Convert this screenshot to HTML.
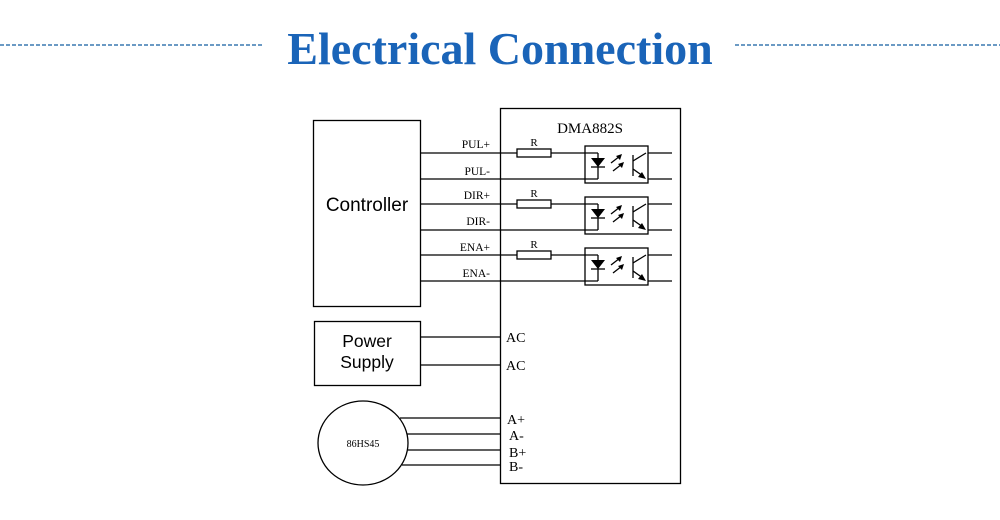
<!DOCTYPE html>
<html><head><style>
html,body{margin:0;padding:0;background:#fff;}
svg{display:block;}
</style></head><body>
<svg width="1000" height="520" viewBox="0 0 1000 520" xmlns="http://www.w3.org/2000/svg">
<line x1="0" y1="45" x2="264" y2="45" stroke="#3a78b0" stroke-width="1.5" stroke-dasharray="4,2"/>
<line x1="735" y1="45" x2="1000" y2="45" stroke="#3a78b0" stroke-width="1.5" stroke-dasharray="4,2"/>
<text x="500" y="64" text-anchor="middle" font-family="Liberation Serif, serif" font-weight="bold" font-size="46" fill="#1a64b8">Electrical Connection</text>

<g stroke="#000" stroke-width="1.3" fill="none">
<rect x="313.5" y="120.5" width="107" height="186"/>
<rect x="500.5" y="108.5" width="180" height="375"/>
<rect x="314.5" y="321.5" width="106" height="64"/>
<ellipse cx="363" cy="443" rx="45" ry="42"/>
</g>
<text x="367" y="211" text-anchor="middle" font-family="Liberation Sans, sans-serif" font-size="19">Controller</text>
<text x="367" y="347" text-anchor="middle" font-family="Liberation Sans, sans-serif" font-size="17.5">Power</text>
<text x="367" y="368" text-anchor="middle" font-family="Liberation Sans, sans-serif" font-size="17.5">Supply</text>
<text x="363" y="447" text-anchor="middle" font-family="Liberation Serif, serif" font-size="10">86HS45</text>
<text x="590" y="133" text-anchor="middle" font-family="Liberation Serif, serif" font-size="15">DMA882S</text>

<g font-family="Liberation Serif, serif" font-size="11.5" text-anchor="end">
<text x="490" y="148">PUL+</text><text x="490" y="175">PUL-</text>
<text x="490" y="199">DIR+</text><text x="490" y="225">DIR-</text>
<text x="490" y="251">ENA+</text><text x="490" y="277">ENA-</text>
</g>

<g id="ch">
<g stroke="#000" stroke-width="1.3" fill="none">
<line x1="420" y1="153" x2="517" y2="153"/>
<rect x="517" y="149" width="34" height="8"/>
<line x1="551" y1="153" x2="598" y2="153"/>
<line x1="420" y1="179" x2="598" y2="179"/>
<line x1="598" y1="153" x2="598" y2="179"/>
<rect x="585" y="146" width="63" height="37"/>
<line x1="648" y1="153" x2="672" y2="153"/>
<line x1="648" y1="179" x2="672" y2="179"/>
<line x1="591" y1="167" x2="605" y2="167"/>
<line x1="633" y1="155" x2="633" y2="176"/>
<line x1="633" y1="161" x2="646" y2="153"/>
<line x1="633" y1="169" x2="643" y2="176"/>
<line x1="611" y1="163" x2="620" y2="156"/>
<line x1="613" y1="171" x2="622" y2="164"/>
</g>
<polygon points="591,158 605,158 598,167" fill="#000"/>
<polygon points="646,179 638,177 642,172" fill="#000"/>
<polygon points="622,154 616,156 620,160" fill="#000"/>
<polygon points="624,162 618,164 622,168" fill="#000"/>
<text x="534" y="146" text-anchor="middle" font-family="Liberation Serif, serif" font-size="11">R</text>
</g>
<use href="#ch" transform="translate(0,51)"/>
<use href="#ch" transform="translate(0,102)"/>

<g stroke="#000" stroke-width="1.3">
<line x1="420" y1="337" x2="500" y2="337"/>
<line x1="420" y1="365" x2="500" y2="365"/>
<line x1="400" y1="418" x2="500" y2="418"/>
<line x1="407" y1="434" x2="500" y2="434"/>
<line x1="408" y1="450" x2="500" y2="450"/>
<line x1="402" y1="465" x2="500" y2="465"/>
</g>
<g font-family="Liberation Serif, serif" font-size="14">
<text x="506" y="342">AC</text><text x="506" y="370">AC</text>
<text x="507" y="424">A+</text><text x="509" y="440">A-</text>
<text x="509" y="457">B+</text><text x="509" y="471">B-</text>
</g>
</svg>
</body></html>
